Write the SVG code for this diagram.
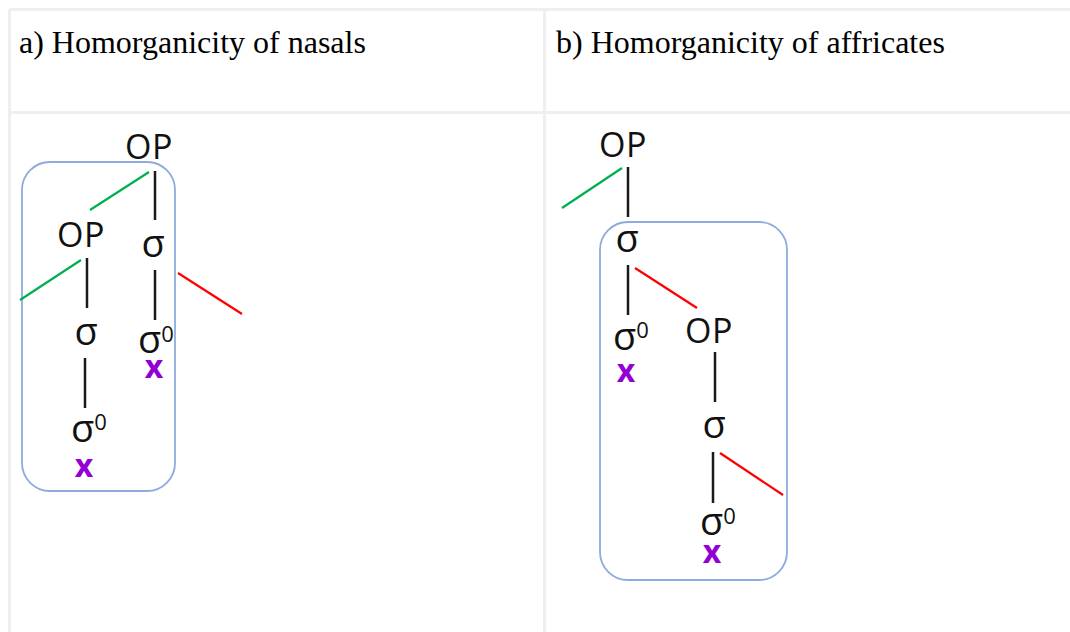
<svg xmlns="http://www.w3.org/2000/svg" width="1070" height="632" viewBox="0 0 1070 632">
<style>
.grid{stroke:#efefef;stroke-width:3;fill:none}
.hdr{font-family:"Liberation Serif","Times New Roman",serif;font-size:32px;fill:#000}
.op{font-family:"Open Sans","Noto Sans",sans-serif;font-size:34px;fill:#111;text-anchor:middle;letter-spacing:0.5px}
.sg{font-family:"Open Sans","Noto Sans",sans-serif;font-size:38px;fill:#111;text-anchor:middle}
.sz{font-family:"Open Sans","Noto Sans",sans-serif;font-size:38px;fill:#111}
.zero{font-size:22px}
.x{font-size:32px;font-weight:bold;fill:#9400d3;text-anchor:middle}
.box{fill:none;stroke:#8faadc;stroke-width:1.8}
.v{stroke:#1a1a1a;stroke-width:2.5}
.g{stroke:#00b050;stroke-width:2.2}
.r{stroke:#ff0000;stroke-width:2.2}
</style>
<rect width="1070" height="632" fill="#fff"/>
<g id="table">
<line class="grid" x1="9" y1="9.5" x2="1070" y2="9.5"/>
<line class="grid" x1="9.5" y1="9" x2="9.5" y2="632"/>
<line class="grid" x1="544.5" y1="9" x2="544.5" y2="632"/>
<line class="grid" x1="9" y1="112.5" x2="1070" y2="112.5"/>
<text class="hdr" x="19" y="53">a) Homorganicity of nasals</text>
<text class="hdr" x="556" y="53">b) Homorganicity of affricates</text>
</g>
<g id="boxes">
<rect id="box-a" class="box" x="22" y="162" width="153" height="329" rx="28" ry="28"/>
<rect id="box-b" class="box" x="600" y="222" width="187" height="358" rx="28" ry="28"/>
</g>
<g id="connectors">
<line class="v" x1="155" y1="171" x2="155" y2="220"/>
<line class="g" x1="149" y1="172" x2="90" y2="210"/>
<line class="v" x1="155" y1="270" x2="155" y2="320"/>
<line class="r" x1="178" y1="273" x2="242" y2="314"/>
<line class="v" x1="87" y1="258" x2="87" y2="308"/>
<line class="g" x1="81" y1="260" x2="20" y2="300"/>
<line class="v" x1="85" y1="358" x2="85" y2="408"/>
<line class="v" x1="628" y1="167" x2="628" y2="217"/>
<line class="g" x1="622" y1="168" x2="562" y2="208"/>
<line class="v" x1="628" y1="265" x2="628" y2="315"/>
<line class="r" x1="635" y1="268" x2="697" y2="308"/>
<line class="v" x1="715" y1="352" x2="715" y2="402"/>
<line class="v" x1="713" y1="452" x2="713" y2="503"/>
<line class="r" x1="720" y1="453" x2="783" y2="495"/>
</g>
<g id="a-op1"><text class="op" x="149" y="159">OP</text></g>
<g id="a-sigma1"><text class="sg" x="153" y="257">σ</text></g>
<g id="a-sigma0-1"><text class="sz" x="138" y="353">σ<tspan class="zero" dy="-11">0</tspan><tspan class="x" x="154" y="378">x</tspan></text></g>
<g id="a-op2"><text class="op" x="81" y="247">OP</text></g>
<g id="a-sigma2"><text class="sg" x="86" y="345">σ</text></g>
<g id="a-sigma0-2"><text class="sz" x="71" y="442">σ<tspan class="zero" dy="-12">0</tspan><tspan class="x" x="84" y="477">x</tspan></text></g>
<g id="b-op1"><text class="op" x="623" y="157">OP</text></g>
<g id="b-sigma1"><text class="sg" x="627" y="252">σ</text></g>
<g id="b-sigma0-1"><text class="sz" x="613" y="350">σ<tspan class="zero" dy="-12">0</tspan><tspan class="x" x="626" y="382">x</tspan></text></g>
<g id="b-op2"><text class="op" x="709" y="343">OP</text></g>
<g id="b-sigma2"><text class="sg" x="714" y="438">σ</text></g>
<g id="b-sigma0-2"><text class="sz" x="700" y="535">σ<tspan class="zero" dy="-11">0</tspan><tspan class="x" x="712" y="563">x</tspan></text></g>
</svg>
